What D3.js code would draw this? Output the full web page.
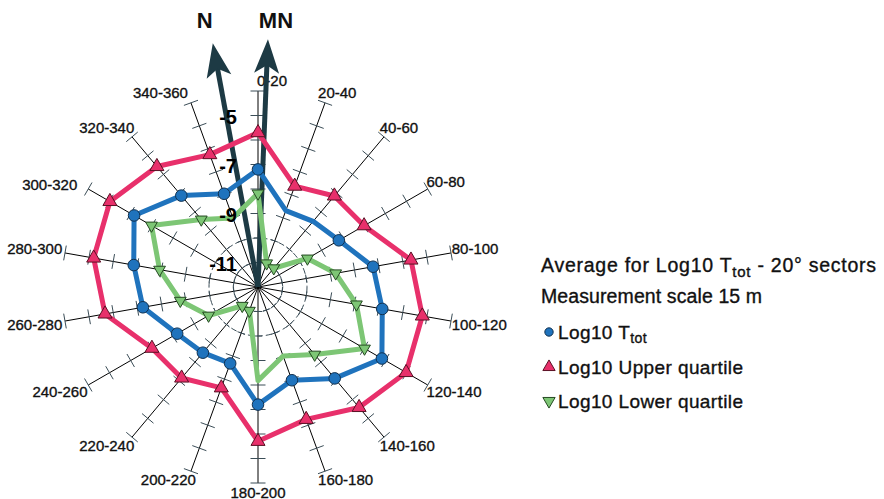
<!DOCTYPE html>
<html>
<head>
    <title>Log10 Ttot radar</title>
    <script src="https://d3js.org/d3.v7.min.js"></script>
    <style>
        body { margin: 0; background: #fff; }
        text { font-family: "Liberation Sans", Arial, sans-serif; }
        .heavy { stroke: #111; stroke-width: 0.35px; }
    </style>
</head>
<body>
    <script>
        // sector labels, one spoke every 20 degrees
        const sectors = ["0-20", "20-40", "40-60", "60-80", "80-100", "100-120", "120-140", "140-160", "160-180",
                         "180-200", "200-220", "220-240", "240-260", "260-280", "280-300", "300-320", "320-340", "340-360"];

        // Log10 values
        const ttot  = [-7.2, -8.68, -8.5, -8.19, -7.23, -6.85, -6.16, -7.13, -7.95,
                       -7.2, -8.68, -8.5, -8.19, -7.23, -6.85, -6.16, -7.13, -7.95];
        const upper = [-5.7, -7.62, -7.15, -7.0, -5.66, -5.19, -5.02, -5.58, -6.25,
                       -5.7, -7.62, -7.15, -7.0, -5.66, -5.19, -5.02, -5.58, -6.25];
        const lower = [-8.18, -10.97, -11.0, -9.67, -8.78, -7.92, -6.98, -8.4, -9.0,
                       -8.18, -10.97, -11.0, -9.67, -8.78, -7.92, -6.98, -8.4, -9.0];

        // points drawn without a marker in the original
        const ttotNoMarker  = ["20-40", "40-60"];
        const lowerNoMarker = ["160-180", "180-200", "340-360"];

        const axisTicks  = [-11, -10, -9, -8, -7, -6, -5, -4];
        const axisLabels = [-5, -7, -9, -11];

        // north arrows (bearing in degrees)
        const arrows = [{name: "N", bearing: -10.5, dx: -8}, {name: "MN", bearing: 2.3, dx: 8}];

        const width = 884, height = 499;
        const cx = 258, cy = 287;

        const svg = d3.select("body")
          .append("svg")
            .attr("width", width)
            .attr("height", height);

        const r = d3.scaleLinear().domain([-12, -4]).range([0, 196]);
        const angle = s => sectors.indexOf(s) * 360 / sectors.length;

        const pt = (deg, rad) => {
            const a = deg * Math.PI / 180;
            return [cx + rad * Math.sin(a), cy - rad * Math.cos(a)];
        };

        const g = svg.append("g");

        // spokes
        g.selectAll(".spoke")
          .data(sectors)
          .enter()
          .append("line")
            .attr("x1", cx).attr("y1", cy)
            .attr("x2", d => pt(angle(d), r(-4))[0])
            .attr("y2", d => pt(angle(d), r(-4))[1])
            .attr("stroke", "#000")
            .attr("stroke-width", 1);

        // tick marks across each spoke
        const tickData = [];
        sectors.forEach(s => axisTicks.forEach(v => tickData.push({s: s, v: v})));
        g.selectAll(".tick")
          .data(tickData)
          .enter()
          .append("line")
            .each(function(d) {
                const a = angle(d.s) * Math.PI / 180;
                const p = pt(angle(d.s), r(d.v));
                const h = d.v <= -10 ? 4 : 7.5;
                d3.select(this)
                  .attr("x1", p[0] - h * Math.cos(a)).attr("y1", p[1] - h * Math.sin(a))
                  .attr("x2", p[0] + h * Math.cos(a)).attr("y2", p[1] + h * Math.sin(a));
            })
            .attr("stroke", "#3b4d57")
            .attr("stroke-width", 1);

        // dashed rings near the centre
        g.selectAll(".ring")
          .data([-11, -10])
          .enter()
          .append("circle")
            .attr("cx", cx).attr("cy", cy)
            .attr("r", d => r(d))
            .attr("fill", "none")
            .attr("stroke", "#3b4d57")
            .attr("stroke-dasharray", "6,3");

        // spoke labels
        g.selectAll(".slabel")
          .data(sectors)
          .enter()
          .append("text")
            .attr("class", "heavy")
            .each(function(d) {
                const deg = angle(d);
                const a = deg * Math.PI / 180;
                const p = pt(deg, r(-4));
                const c = Math.cos(a);
                let dy = c > 0 ? -11 * Math.sqrt(c) : 9 * Math.sqrt(-c);
                const pull = 9 * c * c;
                let anchor = "start", x = p[0] + 1 - pull;
                if (deg === 180) { anchor = "middle"; x = p[0]; }
                else if (deg > 180) { anchor = "end"; x = p[0] - 3 + pull; }
                if (deg === 0) x = p[0] - 1;
                if (deg === 340) x = p[0] - 3;
                if (deg === 300) { x = p[0] - 11; dy += 3; }
                d3.select(this)
                  .attr("x", x).attr("y", p[1] + dy)
                  .attr("text-anchor", anchor);
            })
            .attr("dominant-baseline", "central")
            .attr("font-size", 15)
            .attr("fill", "#111")
            .text(d => d);

        // north arrows
        arrows.forEach(ar => {
            const L = 248;
            const ag = g.append("g")
                .attr("transform", `translate(${cx},${cy}) rotate(${ar.bearing})`);
            ag.append("line")
                .attr("x1", 0).attr("y1", 0)
                .attr("x2", 0).attr("y2", -(L - 24))
                .attr("stroke", "#1d3a44")
                .attr("stroke-width", 5);
            ag.append("path")
                .attr("d", `M0,${-L} L12.5,${-L + 34} L0,${-L + 26} L-12.5,${-L + 34} Z`)
                .attr("fill", "#1d3a44");
            const tip = pt(ar.bearing, L);
            svg.append("text")
                .attr("x", tip[0] + ar.dx).attr("y", 20)
                .attr("text-anchor", "middle")
                .attr("dominant-baseline", "central")
                .attr("font-size", 22)
                .attr("font-weight", "bold")
                .attr("fill", "#111")
                .text(ar.name);
        });

        // series
        const series = [
            {name: "upper", values: upper, color: "#e8306b", stroke: "#5a1024", symbol: d3.symbolTriangle, size: 85, rot: 0, skip: []},
            {name: "ttot",  values: ttot,  color: "#1f73bd", stroke: "#10304f", symbol: d3.symbolCircle,   size: 105, rot: 0, skip: ttotNoMarker},
            {name: "lower", values: lower, color: "#7dc675", stroke: "#254a22", symbol: d3.symbolTriangle, size: 60, rot: 180, skip: lowerNoMarker}
        ];

        const radial = d3.lineRadial()
            .angle((d, i) => angle(sectors[i]) * Math.PI / 180)
            .radius(d => r(d))
            .curve(d3.curveLinearClosed);

        series.forEach(sr => {
            const sg = g.append("g").attr("transform", `translate(${cx},${cy})`);
            sg.append("path")
                .datum(sr.values)
                .attr("d", radial)
                .attr("fill", "none")
                .attr("stroke", sr.color)
                .attr("stroke-width", 5)
                .attr("stroke-linejoin", "round");
        });

        series.forEach(sr => {
            g.selectAll(".m-" + sr.name)
              .data(sr.values.map((v, i) => ({v: v, s: sectors[i]})).filter(d => sr.skip.indexOf(d.s) < 0))
              .enter()
              .append("path")
                .attr("d", d3.symbol().type(sr.symbol).size(sr.size))
                .attr("transform", d => {
                    const p = pt(angle(d.s), r(d.v));
                    return `translate(${p[0]},${p[1]}) rotate(${sr.rot})`;
                })
                .attr("fill", sr.color)
                .attr("stroke", sr.stroke)
                .attr("stroke-width", 1);
        });

        // value labels on the north spoke
        g.selectAll(".vlabel")
          .data(axisLabels)
          .enter()
          .append("text")
            .attr("x", cx - 21)
            .attr("y", d => cy - r(d) + 1)
            .attr("text-anchor", "end")
            .attr("dominant-baseline", "central")
            .attr("font-size", 20)
            .attr("font-weight", "bold")
            .attr("fill", "#000")
            .text(d => d);

        // legend
        const lg = svg.append("g").attr("transform", "translate(541,0)");
        const title = lg.append("text").attr("class", "heavy").attr("x", 0).attr("y", 272)
            .attr("font-size", 19.5).attr("letter-spacing", 0.75).attr("fill", "#111");
        title.append("tspan").text("Average for Log10 T");
        title.append("tspan").attr("font-size", 15).attr("dy", 5).text("tot");
        title.append("tspan").attr("dy", -5).text(" - 20° sectors");
        lg.append("text").attr("class", "heavy").attr("x", 0).attr("y", 303)
            .attr("font-size", 19.5).attr("letter-spacing", 0.1).attr("fill", "#111")
            .text("Measurement scale 15 m");

        const legendItems = [
            {s: series[1], label: "Log10 T", sub: "tot", y: 332, size: 55},
            {s: series[0], label: "Log10 Upper quartile", sub: "", y: 367, size: 65},
            {s: series[2], label: "Log10 Lower quartile", sub: "", y: 401, size: 65}
        ];
        legendItems.forEach(it => {
            lg.append("path")
                .attr("d", d3.symbol().type(it.s.symbol).size(it.size))
                .attr("transform", `translate(8,${it.y}) rotate(${it.s.rot})`)
                .attr("fill", it.s.color)
                .attr("stroke", it.s.stroke)
                .attr("stroke-width", 1);
            const t = lg.append("text").attr("class", "heavy").attr("x", 17).attr("y", it.y + 7)
                .attr("font-size", 19).attr("letter-spacing", 0.4).attr("fill", "#111");
            t.append("tspan").text(it.label);
            if (it.sub) t.append("tspan").attr("font-size", 14).attr("dy", 4).text(it.sub);
        });
    </script>
</body>
</html>
